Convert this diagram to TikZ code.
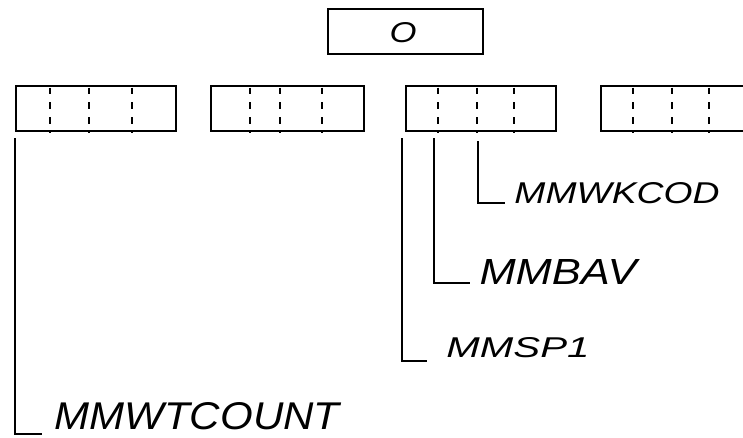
\documentclass[tikz,border=0pt]{standalone}
\usepackage{fontspec}
\setsansfont{Liberation Sans}
\newcommand\hwlabel[3]{\resizebox{#1pt}{#2pt}{\sffamily\itshape #3}}
\begin{document}
\begin{tikzpicture}[x=0.75pt,y=-0.75pt,line width=1.4pt,
  fieldbox/.style={draw,rectangle,anchor=north west,inner sep=0pt,minimum height=33.75pt},
  divider/.style={line width=1.5pt,dash pattern=on 5pt off 6pt,dash phase=-2pt},
  lbl/.style={inner sep=0pt,anchor=center},
  bracket/.style={line width=1.4pt}]
\useasboundingbox (0,0) rectangle (743,437);
\fill[white] (0,0) rectangle (743,437);
% top box
\node[draw,rectangle,anchor=north west,inner sep=0pt,minimum width=116.25pt,minimum height=33.75pt] (top) at (327,8) {};
\node[lbl] (zero) at (403,33) {\hwlabel{20.25}{15}{O}};
% row of boxes
\node[fieldbox,minimum width=120pt] (b1) at (15,85) {};
\node[fieldbox,minimum width=114.75pt] (b2) at (210,85) {};
\node[fieldbox,minimum width=112.5pt] (b3) at (405,85) {};
\node[fieldbox,minimum width=150pt] (b4) at (600,85) {};
\foreach \d in {35,74,117} \draw[divider] ([xshift=\d*0.75pt]b1.north west) -- ([xshift=\d*0.75pt]b1.south west);
\foreach \d in {40,70,112} \draw[divider] ([xshift=\d*0.75pt]b2.north west) -- ([xshift=\d*0.75pt]b2.south west);
\foreach \d in {33,72,109} \draw[divider] ([xshift=\d*0.75pt]b3.north west) -- ([xshift=\d*0.75pt]b3.south west);
\foreach \d in {33,72,109} \draw[divider] ([xshift=\d*0.75pt]b4.north west) -- ([xshift=\d*0.75pt]b4.south west);
% labels
\node[lbl] (wkcod) at (617,193) {\hwlabel{153.75}{15.75}{MMWKCOD}};
\node[lbl] (bav) at (558,272) {\hwlabel{117.75}{18.75}{MMBAV}};
\node[lbl] (sp1) at (518,348) {\hwlabel{107.25}{15}{MMSP1}};
\node[lbl] (wtcount) at (197,416) {\hwlabel{213.75}{20.25}{MMWTCOUNT}};
% bracket coordinates
\coordinate (s1) at (15,138);  \coordinate (e1) at (42,434);
\coordinate (s2) at (402,138); \coordinate (e2) at (427,361);
\coordinate (s3) at (434,138); \coordinate (e3) at (470,283);
\coordinate (s4) at (478,141); \coordinate (e4) at (505,203);
\draw[bracket] (s1) |- (e1);
\draw[bracket] (s2) |- (e2);
\draw[bracket] (s3) |- (e3);
\draw[bracket] (s4) |- (e4);
\end{tikzpicture}
\end{document}
